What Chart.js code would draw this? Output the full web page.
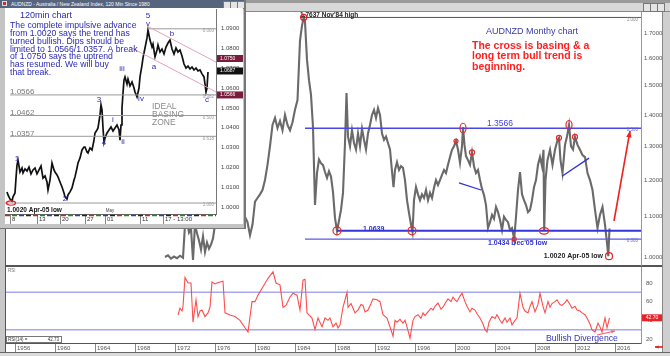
<!DOCTYPE html>
<html>
<head>
<meta charset="utf-8">
<script src="https://cdn.jsdelivr.net/npm/chart.js@4.4.1/dist/chart.umd.min.js"></script>
<style>
body{margin:0;width:670px;height:356px;overflow:hidden;background:#fff;position:relative;font-family:"Liberation Sans",Arial,sans-serif}
.abs{position:absolute;box-sizing:border-box}
canvas{position:absolute}
.btn{position:absolute;top:3px;width:6px;height:7px;background:#e4e4e4;border:1px solid #777}
</style>
</head>
<body>
<!-- window chrome -->
<div class="abs" style="left:0;top:0;width:670px;height:12px;background:linear-gradient(#9a9a9a 0,#9a9a9a 3px,#d8d8d8 3px);border-bottom:1px solid #888"></div>
<div class="btn" style="left:643px"></div><div class="btn" style="left:650px"></div><div class="btn" style="left:657px"></div>
<div class="abs" style="left:0;top:0;width:6px;height:356px;background:#c8c8c8;border-right:1px solid #555"></div>
<div class="abs" style="left:662px;top:12px;width:8px;height:344px;background:#cfcfcf;border-left:1px solid #888"></div>
<div class="abs" style="left:5px;top:265px;width:657px;height:2px;background:#555"></div>
<div class="abs" style="left:0;top:352px;width:670px;height:4px;background:#dadada;border-top:1px solid #666"></div>

<canvas id="price" width="670" height="266" style="left:0;top:0"></canvas>
<canvas id="rsi" width="670" height="90" style="left:0;top:266px"></canvas>

<!-- 120min inset window -->
<div class="abs" style="left:0;top:0;width:246px;height:229px;background:#c4c4c4;border-right:2px solid #777;border-bottom:1px solid #777">
  <div class="abs" style="left:0;top:0;width:244px;height:8px;background:#56647e"></div>
  <div class="abs" style="left:2px;top:1px;width:5px;height:5px;background:#c03030;border:1px solid #ddd"></div>
  <div class="abs" style="left:11px;top:0;height:8px;font-size:5px;line-height:8px;color:#fff;white-space:nowrap">AUDNZD - Australia / New Zealand Index, 120 Min Since 1980</div>
  <div class="btn" style="left:223px;top:1px;height:6px"></div><div class="btn" style="left:230px;top:1px;height:6px"></div><div class="btn" style="left:237px;top:1px;height:6px"></div>
  <canvas id="inset" width="238" height="216" style="left:5px;top:8px;background:#fff"></canvas>
</div>

<script>
// ---- monthly AUDNZD (decimal year, close) ----
const priceDates = [
  1971.0,1971.3,1971.6,1971.9,1972.2,1972.5,1972.8,1973.0,1973.2,1973.4,1973.6,1973.8,
  1974.0,1974.2,1974.4,1974.6,1974.8,1975.0,1975.2,1975.4,1975.6,1975.8,1976.0,1976.3,
  1976.6,1976.9,1977.2,1977.5,1977.8,1978.1,1978.4,1978.7,1979.0,1979.25,1979.5,1979.75,
  1980.0,1980.25,1980.5,1980.75,1981.0,1981.25,1981.5,1981.75,1982.0,1982.25,1982.5,1982.75,
  1983.0,1983.25,1983.5,1983.75,1984.0,1984.25,1984.5,1984.7,1984.87,1985.0,1985.2,1985.4,
  1985.6,1985.8,1986.0,1986.2,1986.4,1986.6,1986.8,1987.0,1987.2,1987.4,1987.6,1987.8,
  1988.0,1988.2,1988.4,1988.6,1988.8,1989.0,1989.15,1989.3,1989.5,1989.7,1989.9,1990.1,
  1990.3,1990.5,1990.7,1990.9,1991.1,1991.3,1991.5,1991.7,1991.9,1992.1,1992.3,1992.5,
  1992.7,1992.9,1993.1,1993.3,1993.5,1993.7,1993.85,1994.0,1994.2,1994.4,1994.6,1994.8,
  1995.0,1995.2,1995.4,1995.6,1995.75,1995.9,1996.1,1996.3,1996.5,1996.7,1996.9,1997.1,
  1997.3,1997.5,1997.7,1997.9,1998.1,1998.3,1998.5,1998.7,1998.9,1999.1,1999.3,1999.5,
  1999.7,1999.9,2000.1,2000.3,2000.5,2000.7,2000.8,2000.95,2001.1,2001.3,2001.5,2001.7,
  2001.9,2002.1,2002.3,2002.5,2002.7,2002.9,2003.1,2003.3,2003.5,2003.7,2003.9,2004.1,
  2004.3,2004.5,2004.7,2004.9,2005.1,2005.3,2005.5,2005.7,2005.92,2006.1,2006.3,2006.5,
  2006.7,2006.9,2007.1,2007.3,2007.5,2007.7,2007.9,2008.1,2008.3,2008.5,2008.7,2008.85,
  2008.92,2009.05,2009.25,2009.5,2009.75,2010.0,2010.25,2010.4,2010.55,2010.75,2011.0,2011.2,
  2011.4,2011.6,2011.8,2012.0,2012.25,2012.5,2012.75,2013.0,2013.25,2013.5,2013.75,2014.0,
  2014.25,2014.5,2014.75,2015.0,2015.2,2015.33,2015.45
];
const priceClose = [
  1.000,1.004,0.996,1.001,0.997,1.003,0.998,1.079,1.088,1.060,1.070,0.993,
  1.080,1.058,1.040,1.018,1.050,1.012,1.035,1.020,1.030,1.045,1.080,1.095,
  1.105,1.125,1.150,1.130,1.140,1.120,1.130,1.110,1.100,1.086,1.053,1.080,
  1.140,1.150,1.160,1.172,1.200,1.244,1.300,1.367,1.390,1.357,1.380,1.350,
  1.400,1.367,1.350,1.376,1.417,1.450,1.670,1.730,1.7637,1.745,1.595,1.520,
  1.468,1.360,1.131,1.220,1.260,1.249,1.243,1.223,1.206,1.225,1.210,1.166,
  1.097,1.064,1.090,1.118,1.164,1.310,1.475,1.330,1.300,1.350,1.310,1.290,
  1.340,1.300,1.355,1.320,1.290,1.340,1.367,1.400,1.417,1.390,1.423,1.400,
  1.340,1.320,1.330,1.310,1.290,1.225,1.180,1.229,1.252,1.229,1.240,1.235,
  1.200,1.144,1.110,1.080,1.061,1.144,1.180,1.160,1.144,1.160,1.150,1.172,
  1.144,1.164,1.150,1.178,1.200,1.186,1.200,1.215,1.229,1.220,1.244,1.267,
  1.289,1.300,1.316,1.290,1.250,1.300,1.360,1.304,1.270,1.258,1.244,1.281,
  1.240,1.220,1.229,1.200,1.175,1.158,1.131,1.071,1.086,1.105,1.095,1.126,
  1.112,1.092,1.066,1.100,1.092,1.086,1.066,1.071,1.0434,1.100,1.172,1.223,
  1.160,1.144,1.131,1.112,1.118,1.144,1.180,1.200,1.244,1.267,1.240,1.289,
  1.064,1.200,1.258,1.289,1.244,1.289,1.319,1.326,1.258,1.220,1.304,1.330,
  1.367,1.300,1.290,1.329,1.304,1.289,1.273,1.267,1.220,1.200,1.172,1.118,
  1.071,1.105,1.126,1.079,1.034,1.002,1.070
];
const priceTicks = [1.0, 1.1, 1.2, 1.3, 1.4, 1.5, 1.6, 1.7];
const mainLevels = [1.7637, 1.3566, 1.0639, 1.0434];
const mainLevelStart = [1984.5, 1985.0, 1988.2, 1985.0];
const mainFibTags = ['1.000', '0.500', '', '0.000'];

// ---- RSI(14) ----
const rsiDates = [
  1972.3,1972.5,1972.7,1972.8,1973.0,1973.3,1973.6,1973.8,1974.1,1974.3,1974.5,1974.7,
  1975.0,1975.3,1975.5,1975.7,1976.0,1976.2,1976.5,1976.8,1977.0,1977.5,1978.0,1978.5,
  1979.0,1979.3,1979.7,1980.0,1980.3,1980.8,1981.3,1981.8,1982.1,1982.5,1982.8,1983.1,
  1983.5,1983.8,1984.2,1984.5,1984.8,1985.0,1985.2,1985.7,1986.0,1986.3,1986.7,1987.0,
  1987.3,1987.5,1987.8,1988.1,1988.3,1988.5,1988.8,1989.2,1989.3,1989.6,1989.8,1990.0,
  1990.3,1990.6,1990.8,1991.0,1991.3,1991.6,1991.8,1992.2,1992.5,1992.8,1993.2,1993.5,
  1993.8,1994.0,1994.2,1994.5,1994.8,1995.0,1995.2,1995.5,1995.8,1996.0,1996.3,1996.6,
  1996.8,1997.0,1997.3,1997.6,1997.8,1998.0,1998.3,1998.6,1998.8,1999.0,1999.3,1999.6,
  1999.8,2000.0,2000.2,2000.5,2000.7,2001.0,2001.2,2001.5,2001.7,2002.0,2002.2,2002.5,
  2002.8,2003.0,2003.2,2003.4,2003.7,2004.0,2004.2,2004.5,2004.7,2005.0,2005.2,2005.5,
  2005.7,2006.0,2006.2,2006.5,2006.8,2007.0,2007.3,2007.5,2007.7,2008.0,2008.3,2008.5,
  2008.8,2009.0,2009.3,2009.5,2009.7,2010.0,2010.2,2010.5,2010.7,2011.0,2011.2,2011.5,
  2011.7,2012.0,2012.2,2012.5,2012.7,2013.0,2013.2,2013.5,2013.7,2014.0,2014.3,2014.5,
  2014.7,2015.0,2015.2,2015.45
];
const rsiValues = [
  45.7,53,50,55,86,80,80,38,62,44,50,51,
  44,48,54,81,79,80,81,82,48,45.7,44,40,
  32,27.5,60,60,67,76,85,92,80,78,54,56,
  65,69,67,51,83,84,48,42.5,30,42.5,33,42.5,
  40,42.5,33,37,32,35,54,70,54,58,53,48,
  51,57,56,49,51,58,63,62,60,46,42.5,33,
  23,40,38,41,37,40,33,21,40,44,46,42,
  48,45,49,53,51,55,58.5,52,54,58,63,60,
  65,62,60,66,69,60,55,49,53,51,47,42.5,
  36,30,27.5,38,44,42,46,40,37,42.5,38,42.5,
  35,40,42.5,69,54,50,48,55,60,49,57,69,
  55,48,60,54,58,60,62,57,56,59,62,57,
  53,55,51,50,48,46,42.5,36,30,27.5,37,33,
  27.5,42.5,32,42.7
];
const rsiTicks = [20, 40, 60, 80];
const rsiBands = [70, 30];
const yearTicks = [1956,1960,1964,1968,1972,1976,1980,1984,1988,1992,1996,2000,2004,2008,2012,2016];

// ---- 120min inset (bar number, close) ----
const insetBars = [
  2,3,5,7,8,10,11,12,13,15,17,18,20,22,24,26,28,30,32,34,36,38,40,42,43,45,47,49,50,52,53,55,
  57,59,60,62,63,65,67,69,70,72,73,75,77,79,80,82,83,85,87,89,90,92,93,95,96,97,98,99,100,102,
  104,106,108,110,112,114,115,116,117,118,119,120,122,123,125,127,129,130,132,134,135,137,138,140,
  142,143,145,147,148,150,152,153,155,157,159,161,163,165,167,169,171,173,175,177,179,181,183,185,
  187,189,191,193,195,197,199,200,201,202,203
];
const insetClose = [
  1.0076,1.0061,1.0040,1.0030,1.0051,1.0071,1.0146,1.0212,1.0237,1.0177,1.0197,1.0172,1.0192,1.0182,1.0202,1.0167,
  1.0187,1.0197,1.0167,1.0187,1.0207,1.0146,1.0157,1.0126,1.0086,1.0136,1.0222,1.0187,1.0177,1.0162,1.0152,1.0126,
  1.0101,1.0071,1.0051,1.0040,1.0061,1.0076,1.0096,1.0136,1.0152,1.0197,1.0222,1.0247,1.0288,1.0303,1.0303,1.0278,
  1.0273,1.0298,1.0288,1.0338,1.0374,1.0389,1.0399,1.0465,1.0515,1.0490,1.0399,1.0328,1.0348,1.0374,
  1.0389,1.0404,1.0384,1.0399,1.0414,1.0389,1.0338,1.0414,1.0500,1.0576,1.0641,1.0657,1.0621,1.0646,1.0611,1.0631,
  1.0601,1.0581,1.0556,1.0601,1.0657,1.0717,1.0753,1.0803,
  1.0854,1.0894,1.0843,1.0808,1.0823,1.0758,1.0793,1.0818,1.0783,1.0798,1.0773,1.0808,1.0828,1.0843,1.0798,1.0773,
  1.0803,1.0783,1.0793,1.0763,1.0722,1.0702,1.0712,1.0697,
  1.0707,1.0692,1.0702,1.0687,1.0692,1.0672,1.0657,1.0621,1.0581,1.0601,1.0682
];
const insetPriceTicks = [1.00,1.01,1.02,1.03,1.04,1.05,1.06,1.07,1.08,1.09];
const insetBarTicks = [5, 32, 55, 80, 100, 135, 158];
const insetBarLabels = ['8', '13', '20', '27', '01', '11', '17 - 13:00'];
const insetFib = [1.0900, 1.0566, 1.0462, 1.0357, 1.0020];
const insetFibTags = ['0.000', '0.382', '0.500', '0.618', '1.000'];
const insetFibStart = [143, 5, 5, 5, 0];
const insetMarkers = [1.0750, 1.0687, 1.0566];

Chart.defaults.font.family = '"Liberation Sans", Arial, sans-serif';
Chart.defaults.plugins.legend.display = false;
Chart.defaults.plugins.tooltip.enabled = false;

const FONT = '"Liberation Sans", Arial, sans-serif';

function fixSize(w, h) {
  return function(scale) {
    if (w !== null) scale.width = w;
    if (h !== null) scale.height = h;
    scale.paddingTop = 0; scale.paddingBottom = 0;
    scale.paddingLeft = 0; scale.paddingRight = 0;
  };
}
function setTicks(list) {
  return function(scale) { scale.ticks = list.map(v => ({value: v})); };
}
function txt(ctx, s, x, y, font, color, align, base) {
  ctx.font = font + ' ' + FONT;
  ctx.fillStyle = color;
  ctx.textAlign = align || 'left';
  ctx.textBaseline = base || 'middle';
  ctx.fillText(s, x, y);
}
function ring(ctx, x, y, rx, ry, color, w) {
  ctx.beginPath();
  ctx.ellipse(x, y, rx, ry, 0, 0, Math.PI * 2);
  ctx.strokeStyle = color;
  ctx.lineWidth = w || 1.2;
  ctx.stroke();
}
function seg(ctx, x1, y1, x2, y2, color, w) {
  ctx.beginPath();
  ctx.moveTo(x1, y1); ctx.lineTo(x2, y2);
  ctx.strokeStyle = color; ctx.lineWidth = w; ctx.stroke();
}
function arrow(ctx, x1, y1, x2, y2, color, w, head) {
  seg(ctx, x1, y1, x2, y2, color, w);
  const a = Math.atan2(y2 - y1, x2 - x1);
  ctx.beginPath();
  ctx.moveTo(x2, y2);
  ctx.lineTo(x2 - head * Math.cos(a - 0.4), y2 - head * Math.sin(a - 0.4));
  ctx.lineTo(x2 - head * Math.cos(a + 0.4), y2 - head * Math.sin(a + 0.4));
  ctx.closePath();
  ctx.fillStyle = color; ctx.fill();
}

// annotations on the monthly chart
const priceNotes = {
  id: 'priceNotes',
  afterDatasetsDraw(chart) {
    const {ctx, chartArea: ca} = chart;
    const X = v => chart.scales.x.getPixelForValue(v);
    const Y = v => chart.scales.y.getPixelForValue(v);
    ctx.save();
    const lvlColor = ['#555', '#4848e6', '#3434dc', '#5a5ae8'];
    const lvlWidth = [1, 1.4, 2, 1.2];
    mainLevels.forEach((v, i) => {
      seg(ctx, X(mainLevelStart[i]), Y(v), ca.right, Y(v), lvlColor[i], lvlWidth[i]);
      if (mainFibTags[i]) txt(ctx, mainFibTags[i], ca.right - 3, Y(v) + 2, '4.5px', i ? '#6a6ae0' : '#888', 'right');
    });
    txt(ctx, "1.7637 Nov'84 high", X(1984.5), Y(1.7637) - 0.3, 'bold 6.5px', '#222', 'left', 'alphabetic');
    ring(ctx, X(1984.87), Y(1.7637), 3, 3, '#e02020');

    txt(ctx, 'AUDNZD Monthy chart', X(2003.1), Y(1.705), '9px', '#3a3aa8');
    ['The cross is basing & a', 'long term bull trend is', 'beginning.'].forEach((s, i) => {
      txt(ctx, s, X(2001.7), Y(1.648) + i * 10.5, 'bold 10.5px', '#ff2020');
    });

    txt(ctx, '1.3566', X(2003.2), Y(1.370), '8.5px', '#4040e0');
    txt(ctx, '1.0639', X(1990.8), Y(1.0686), 'bold 7px', '#3030d0');
    txt(ctx, "1.0434 Dec'05 low", X(2003.3), Y(1.0337), 'bold 7px', '#3030d0');
    txt(ctx, '1.0020 Apr-05 low', X(2014.8), Y(1.0012), 'bold 7px', '#222', 'right');

    const red = '#e62828';
    [[1988.2, 1.0639], [1995.7, 1.0639]].forEach(p => ring(ctx, X(p[0]), Y(p[1]), 4, 4, red));
    ring(ctx, X(2008.9), Y(1.0639), 4.7, 3.3, red);
    ring(ctx, X(2005.92), Y(1.0434), 2, 2, red);
    ring(ctx, X(2015.4), Y(1.0020), 3.5, 3.5, red);
    ring(ctx, X(2000.8), Y(1.3566), 3, 5, red);
    ring(ctx, X(2000.1), Y(1.316), 2, 2, red);
    ring(ctx, X(2001.7), Y(1.281), 2.5, 2.5, red);
    ring(ctx, X(2011.4), Y(1.367), 3, 4.5, red);
    ring(ctx, X(2010.4), Y(1.326), 2.5, 2.5, red);
    ring(ctx, X(2012.0), Y(1.329), 2.5, 2.5, red);

    seg(ctx, X(2000.4), Y(1.192), X(2002.6), Y(1.172), '#3030e0', 1.3);
    seg(ctx, X(2010.7), Y(1.211), X(2013.4), Y(1.264), '#3030e0', 1.3);
    arrow(ctx, X(2015.9), Y(1.089), X(2017.5), Y(1.348), '#ee2020', 1.6, 7);
    ctx.restore();
  }
};

// annotations on the RSI panel
const rsiNotes = {
  id: 'rsiNotes',
  beforeDatasetsDraw(chart) {
    const {ctx, chartArea: ca} = chart;
    const Y = v => chart.scales.y.getPixelForValue(v);
    ctx.save();
    rsiBands.forEach(v => seg(ctx, ca.left, Y(v), ca.right, Y(v), '#a8a8f0', 1.5));
    ctx.restore();
  },
  afterDatasetsDraw(chart) {
    const {ctx, chartArea: ca} = chart;
    const X = v => chart.scales.x.getPixelForValue(v);
    const Y = v => chart.scales.y.getPixelForValue(v);
    ctx.save();
    txt(ctx, 'RSI', ca.left + 2, ca.top + 4, '4.5px', '#777');
    ctx.fillStyle = '#fff'; ctx.fillRect(ca.left, ca.bottom - 6, 55, 6);
    ctx.strokeStyle = '#777'; ctx.lineWidth = 1; ctx.strokeRect(ca.left + 0.5, ca.bottom - 6.5, 55, 6);
    txt(ctx, 'RSI(14) =', ca.left + 2, ca.bottom - 3.3, '4.5px', '#333');
    txt(ctx, '42.73', ca.left + 53, ca.bottom - 3.3, '4.5px', '#333', 'right');
    const last = rsiValues[rsiValues.length - 1];
    ctx.fillStyle = '#e8242a'; ctx.fillRect(ca.right + 1, Y(last) - 3.5, 20, 7);
    txt(ctx, last.toFixed(2), ca.right + 11, Y(last), '5px', '#fff', 'center');
    txt(ctx, 'Bullish Divergence', X(2009.1), Y(20), '8.7px', '#3434b4');
    arrow(ctx, X(2014.2), Y(24.3), X(2016.0), Y(28.6), '#ff5a5a', 1.1, 4);
    arrow(ctx, ca.right + 22, ca.bottom + 4, ca.right + 14, ca.bottom + 4, '#e02020', 1.6, 4);
    ctx.restore();
  }
};

// annotations on the 120min inset
const insetNotes = {
  id: 'insetNotes',
  afterDatasetsDraw(chart) {
    const {ctx, chartArea: ca} = chart;
    const X = v => chart.scales.x.getPixelForValue(v);
    const Y = v => chart.scales.y.getPixelForValue(v);
    ctx.save();
    insetFib.forEach((v, i) => {
      seg(ctx, X(insetFibStart[i]), Y(v), ca.right, Y(v), '#9a9a9a', 1);
      txt(ctx, insetFibTags[i], ca.right - 2, Y(v) + 2, '4.5px', '#999', 'right');
    });
    ['1.0566', '1.0462', '1.0357'].forEach((s, i) => {
      txt(ctx, s, X(5), Y(insetFib[i + 1]) - 0.5, '8px', '#7a7a7a', 'left', 'alphabetic');
    });
    txt(ctx, '1.0020 Apr-05 low', X(2), Y(0.9985), 'bold 6.5px', '#111');
    ring(ctx, X(6), Y(1.0020), 4.5, 2.2, '#e02020');

    seg(ctx, X(142), Y(1.0914), X(211), Y(1.0732), '#e6a2b8', 1);
    seg(ctx, X(125), Y(1.0808), X(211), Y(1.0581), '#e6a2b8', 1);

    const waves = [['5', 143, 1.0965], ['v', 143, 1.0924], ['b', 167, 1.0874], ['a', 149, 1.0707],
      ['iii', 117, 1.0697], ['iv', 136, 1.0545], ['c', 202, 1.0540], ['3', 94, 1.0540],
      ['i', 108, 1.0439], ['4', 99, 1.0323], ['ii', 118, 1.0328], ['1', 12, 1.0242], ['2', 60, 1.0040]];
    waves.forEach(w => txt(ctx, w[0], X(w[1]), Y(w[2]), '8px', '#2c2cb4', 'center'));

    ['IDEAL', 'BASING', 'ZONE'].forEach((s, i) => txt(ctx, s, X(147), Y(1.0505) + i * 8, '8.5px', '#8a8a8a'));

    txt(ctx, '120min chart', ca.left + 15, ca.top + 7, '9px', '#2a2ab0');
    ['The complete impulsive advance', 'from 1.0020 says the trend has', 'turned bullish. Dips should be',
     'limited to 1.0566/1.0357. A break', 'of 1.0750 says the uptrend', 'has resumed. We will buy', 'that break.']
      .forEach((s, i) => txt(ctx, s, ca.left + 5, ca.top + 16.5 + i * 7.9, '8.7px', '#2a2ab0'));

    const boxCol = ['#7a1c3c', '#111', '#7a1c3c'];
    insetMarkers.forEach((v, i) => {
      ctx.fillStyle = boxCol[i];
      ctx.fillRect(ca.right + 1, Y(v) - 3.5, 26, 7);
      txt(ctx, v.toFixed(4), ca.right + 4, Y(v), '5px', '#fff');
    });
    txt(ctx, 'May', X(105), ca.bottom - 3, '4.5px', '#444', 'center');
    const cols = ['#d02020', '#208a20', '#2040c0', '#222'];
    for (let i = 0, x = ca.left; x < ca.right; i++, x += 7) {
      seg(ctx, x, ca.bottom + 1.5, Math.min(x + 5, ca.right), ca.bottom + 1.5, cols[i % 4], 1.5);
    }
    ctx.restore();
  }
};

new Chart(document.getElementById('price'), {
  type: 'line',
  data: {datasets: [{
    data: priceDates.map((d, i) => ({x: d, y: priceClose[i]})),
    borderColor: '#6a6a6a', borderWidth: 2.1, pointRadius: 0, tension: 0
  }]},
  options: {
    responsive: false, animation: false, devicePixelRatio: 1, events: [],
    layout: {padding: {left: 6, right: 8, top: 12, bottom: 1}},
    scales: {
      x: {type: 'linear', min: 1955.1, max: 2018.6, display: false},
      y: {type: 'logarithmic', position: 'right', min: 0.98123, max: 1.7866, bounds: 'data',
          afterBuildTicks: setTicks(priceTicks), afterFit: fixSize(21, null),
          grid: {drawOnChartArea: false, drawTicks: false},
          border: {display: true, color: '#999'},
          ticks: {font: {size: 6}, color: '#555', padding: 3, callback: v => Number(v).toFixed(4)}}
    }
  },
  plugins: [priceNotes]
});

new Chart(document.getElementById('rsi'), {
  type: 'line',
  data: {datasets: [{
    data: rsiDates.map((d, i) => ({x: d, y: rsiValues[i]})),
    borderColor: '#ff4c4c', borderWidth: 1.1, pointRadius: 0, tension: 0
  }]},
  options: {
    responsive: false, animation: false, devicePixelRatio: 1, events: [],
    layout: {padding: {left: 6, right: 8, top: 1, bottom: 4}},
    scales: {
      x: {type: 'linear', min: 1955.1, max: 2018.6, bounds: 'data',
          afterBuildTicks: setTicks(yearTicks), afterFit: fixSize(null, 9),
          grid: {drawOnChartArea: false, drawTicks: true, tickLength: 9, color: '#888'},
          border: {display: true, color: '#555'},
          ticks: {font: {size: 6}, color: '#555', padding: -7, align: 'start', labelOffset: 2,
                  autoSkip: false, maxRotation: 0, callback: v => String(v)}},
      y: {type: 'linear', position: 'right', min: 15.71, max: 97.14, bounds: 'data',
          afterBuildTicks: setTicks(rsiTicks), afterFit: fixSize(21, null),
          grid: {drawOnChartArea: false, drawTicks: false},
          border: {display: true, color: '#999'},
          ticks: {font: {size: 6}, color: '#555', padding: 5}}
    }
  },
  plugins: [rsiNotes]
});

new Chart(document.getElementById('inset'), {
  type: 'line',
  data: {datasets: [{
    data: insetBars.map((b, i) => ({x: b, y: insetClose[i]})),
    borderColor: '#111', borderWidth: 1.7, pointRadius: 0, tension: 0
  }]},
  options: {
    responsive: false, animation: false, devicePixelRatio: 1, events: [],
    layout: {padding: {left: 0, right: 0, top: 1, bottom: 0}},
    scales: {
      x: {type: 'linear', min: 0, max: 211, bounds: 'data',
          afterBuildTicks: setTicks(insetBarTicks), afterFit: fixSize(null, 10),
          grid: {drawOnChartArea: false, drawTicks: true, tickLength: 10, color: '#888'},
          border: {display: true, color: '#666'},
          ticks: {font: {size: 6}, color: '#333', padding: -8, align: 'start', labelOffset: 2,
                  autoSkip: false, maxRotation: 0, callback: (v, i) => insetBarLabels[i]}},
      y: {type: 'linear', position: 'right', min: 0.99646, max: 1.1, bounds: 'data',
          afterBuildTicks: setTicks(insetPriceTicks), afterFit: fixSize(27, null),
          grid: {drawOnChartArea: false, drawTicks: false},
          border: {display: true, color: '#777'},
          ticks: {font: {size: 6}, color: '#444', padding: 5, callback: v => Number(v).toFixed(4)}}
    }
  },
  plugins: [insetNotes]
});
</script>
</body>
</html>
